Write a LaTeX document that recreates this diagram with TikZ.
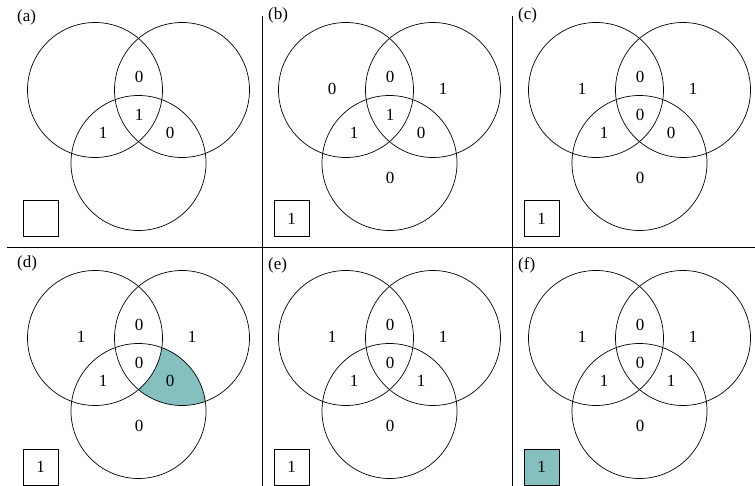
\documentclass[tikz,border=0pt]{standalone}
\usepackage{fontspec}
\setmainfont{Liberation Serif}
\definecolor{vteal}{RGB}{134,191,191}
\tikzset{
  vcirc/.style={draw, circle, minimum size=135pt, inner sep=0pt, line width=0.7pt},
  num/.style={font=\fontsize{17}{20}\selectfont, inner sep=0pt},
  plabel/.style={font=\fontsize{17}{20}\selectfont, inner sep=0pt, anchor=west},
  resbox/.style={draw, minimum width=35pt, minimum height=36pt, inner sep=0pt,
    font=\fontsize{17}{20}\selectfont, line width=0.7pt},
  sep/.style={line width=1pt}
}
\newcommand\venncircles[1]{%
  \node[vcirc] (#1A) at (95,90) {};
  \node[vcirc] (#1B) at (182,90) {};
  \node[vcirc] (#1C) at (138.5,163) {};
}
\begin{document}
\begin{tikzpicture}[x=1pt,y=-1pt]
\useasboundingbox (0,0) rectangle (755,486);
% separators
\coordinate (h1) at (7,248);
\coordinate (h2) at (755,248);
\coordinate (v1t) at (262,16);
\coordinate (v1b) at (262,486);
\coordinate (v2t) at (512,16);
\coordinate (v2b) at (512,486);
\draw[sep] (h1) -- (h2);
\draw[sep] (v1t) -- (v1b);
\draw[sep] (v2t) -- (v2b);
% (a)
\begin{scope}[shift={(0,0)}]
  \venncircles{a}
  \node[plabel] (aL) at (17,17) {(a)};
  \node[num] (aAB) at (139,77) {0};
  \node[num] (aABC) at (139,115) {1};
  \node[num] (aAC) at (103,133) {1};
  \node[num] (aBC) at (170,133) {0};
  \node[resbox] (aR) at (40.5,218.5) {};
\end{scope}
% (b)
\begin{scope}[shift={(251,0)}]
  \venncircles{b}
  \node[plabel] (bL) at (17,15) {(b)};
  \node[num] (bA) at (81,89) {0};
  \node[num] (bB) at (192,89) {1};
  \node[num] (bCc) at (139,178) {0};
  \node[num] (bAB) at (139,77) {0};
  \node[num] (bABC) at (139,115) {1};
  \node[num] (bAC) at (103,133) {1};
  \node[num] (bBC) at (170,133) {0};
  \node[resbox] (bR) at (40.5,218.5) {1};
\end{scope}
% (c)
\begin{scope}[shift={(501,0)}]
  \venncircles{c}
  \node[plabel] (cL) at (17,15) {(c)};
  \node[num] (cA) at (81,89) {1};
  \node[num] (cB) at (192,89) {1};
  \node[num] (cCc) at (139,178) {0};
  \node[num] (cAB) at (139,77) {0};
  \node[num] (cABC) at (139,115) {0};
  \node[num] (cAC) at (103,133) {1};
  \node[num] (cBC) at (170,133) {0};
  \node[resbox] (cR) at (40.5,218.5) {1};
\end{scope}
% (d)
\begin{scope}[shift={(0,248)}]
  \begin{scope}
    \clip (182,90) circle[radius=67.5pt];
    \clip (138.5,163) circle[radius=67.5pt];
    \fill[vteal, even odd rule] (0,0) rectangle (250,240) (95,90) circle[radius=67.5pt];
  \end{scope}
  \venncircles{d}
  \node[plabel] (dL) at (17,15) {(d)};
  \node[num] (dA) at (81,89) {1};
  \node[num] (dB) at (192,89) {1};
  \node[num] (dCc) at (139,178) {0};
  \node[num] (dAB) at (139,77) {0};
  \node[num] (dABC) at (139,115) {0};
  \node[num] (dAC) at (103,133) {1};
  \node[num] (dBC) at (170,133) {0};
  \node[resbox] (dR) at (40.5,219) {1};
\end{scope}
% (e)
\begin{scope}[shift={(251,248)}]
  \venncircles{e}
  \node[plabel] (eL) at (17,17) {(e)};
  \node[num] (eA) at (81,89) {1};
  \node[num] (eB) at (192,89) {1};
  \node[num] (eCc) at (139,178) {0};
  \node[num] (eAB) at (139,77) {0};
  \node[num] (eABC) at (139,115) {0};
  \node[num] (eAC) at (103,133) {1};
  \node[num] (eBC) at (170,133) {1};
  \node[resbox] (eR) at (40.5,219) {1};
\end{scope}
% (f)
\begin{scope}[shift={(501,248)}]
  \venncircles{f}
  \node[plabel] (fL) at (17,17) {(f)};
  \node[num] (fA) at (81,89) {1};
  \node[num] (fB) at (192,89) {1};
  \node[num] (fCc) at (139,178) {0};
  \node[num] (fAB) at (139,77) {0};
  \node[num] (fABC) at (139,115) {0};
  \node[num] (fAC) at (103,133) {1};
  \node[num] (fBC) at (170,133) {1};
  \node[resbox, fill=vteal] (fR) at (40.5,219) {1};
\end{scope}
\end{tikzpicture}
\end{document}
